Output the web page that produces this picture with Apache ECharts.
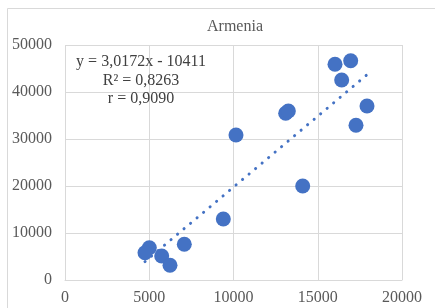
<!DOCTYPE html>
<html>
<head>
<meta charset="utf-8">
<script src="https://cdn.jsdelivr.net/npm/echarts@6/dist/echarts.min.js"></script>
<style>html,body{margin:0;padding:0;background:#fff}#c{width:435px;height:308px}</style>
</head>
<body>
<div id="c"></div>
<script>
var title = 'Armenia';
var xValues = [16024, 16955, 16420, 17923, 17270, 13097, 13255, 10148, 14107, 9395, 7080, 5004, 4748, 5739, 6231];
var yValues = [45894, 46660, 42553, 37021, 32915, 35468, 35957, 30851, 20000, 12979, 7596, 6872, 5809, 5106, 3128];
var trendSlope = 3.0172;
var trendIntercept = -10411;
var equationLines = ['y = 3,0172x - 10411', 'R² = 0,8263', 'r = 0,9090'];

var points = xValues.map(function (x, i) { return [x, yValues[i]]; });
var xMin = Math.min.apply(null, xValues), xMax = Math.max.apply(null, xValues);
var trend = [[xMin, trendSlope * xMin + trendIntercept], [xMax, trendSlope * xMax + trendIntercept]];

var font = 'Liberation Serif';
var fmt = function (v) { return String(v); };
var chart = echarts.init(document.getElementById('c'));
chart.setOption({
  animation: false,
  backgroundColor: '#fff',
  title: {
    text: title, left: 230, top: 14, textAlign: 'center',
    textStyle: { fontFamily: font, fontSize: 16, fontWeight: 'normal', color: '#595959' }
  },
  graphic: [
    { type: 'rect', shape: { x: 7.5, y: 8.5, width: 500, height: 400 }, style: { fill: 'none', stroke: '#d9d9d9', lineWidth: 1 }, z: -1 },
    { type: 'text', x: 141, y: 53, z: 10, style: { text: equationLines.join('\n'), align: 'center', verticalAlign: 'top', fontFamily: font, fontSize: 16, lineHeight: 18.5, fill: '#404040' } }
  ],
  grid: { left: 65, right: 33, top: 45, bottom: 28 },
  xAxis: {
    type: 'value', min: 0, max: 20000, interval: 5000,
    axisLine: { show: true, lineStyle: { color: '#d9d9d9' } },
    axisTick: { show: false },
    axisLabel: { fontFamily: font, fontSize: 16, color: '#595959', margin: 10, formatter: fmt },
    splitLine: { show: true, lineStyle: { color: '#d9d9d9' } }
  },
  yAxis: {
    type: 'value', min: 0, max: 50000, interval: 10000,
    axisLine: { show: false },
    axisTick: { show: false },
    axisLabel: { fontFamily: font, fontSize: 16, color: '#595959', margin: 13, formatter: fmt },
    splitLine: { show: true, lineStyle: { color: '#d9d9d9' } }
  },
  series: [
    {
      type: 'line', data: trend, symbol: 'none', z: 1,
      lineStyle: { color: '#4472C4', width: 3, type: [0.1, 8.4], cap: 'round' }
    },
    {
      type: 'scatter', data: points, symbolSize: 15, z: 2,
      itemStyle: { color: '#4472C4', opacity: 1 }
    }
  ]
});
</script>
</body>
</html>
